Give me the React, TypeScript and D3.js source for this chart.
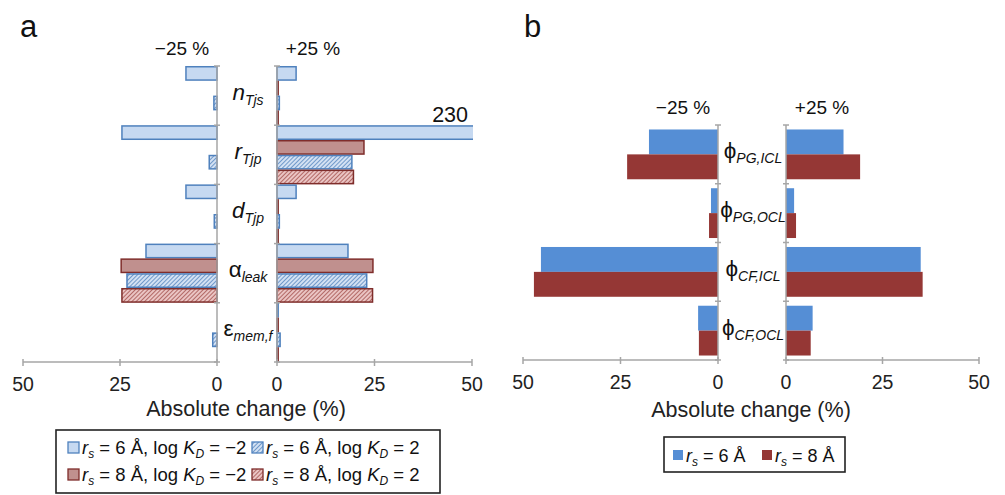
import React from 'react';
import * as d3 from 'd3';

// panel a: sensitivity of parameters, four model variants
const catsA = ['nTjs', 'rTjp', 'dTjp', 'aleak', 'emem'];
const labelsA = [
  { main: 'n', sub: 'Tjs', italic: true },
  { main: 'r', sub: 'Tjp', italic: true },
  { main: 'd', sub: 'Tjp', italic: true },
  { main: 'α', sub: 'leak', italic: false },
  { main: 'ε', sub: 'mem,f', italic: false },
];
const seriesA = ['rs6_m2', 'rs8_m2', 'rs6_p2', 'rs8_p2'];
// −25 % change, per category, per series
const minusA = [
  [8.0, 0, 0.8, 0],
  [24.5, 0, 2.0, 0],
  [8.0, 0, 0.7, 0],
  [18.3, 24.7, 23.2, 24.5],
  [0, 0, 1.1, 0],
];
// +25 % change
const plusA = [
  [4.9, 0.3, 0.6, 0.3],
  [230, 22.3, 19.2, 19.6],
  [4.9, 0.3, 0.6, 0.3],
  [18.2, 24.6, 23.0, 24.5],
  [0.3, 0.3, 0.8, 0.3],
];

// panel b
const catsB = ['PG,ICL', 'PG,OCL', 'CF,ICL', 'CF,OCL'];
const seriesB = ['rs6', 'rs8'];
const minusB = [
  [17.7, 23.3],
  [1.8, 2.3],
  [45.4, 47.2],
  [5.1, 4.9],
];
const plusB = [
  [14.9, 19.2],
  [2.1, 2.6],
  [34.9, 35.4],
  [6.9, 6.4],
];

const xTicks = [0, 25, 50];

const FONT = '"Liberation Sans", Arial, sans-serif';
const AXIS = '#a6a6a6';

const styleA = [
  { fill: '#c6d9f1', stroke: '#4f81bd' },
  { fill: '#c0908e', stroke: '#7f2d2b' },
  { fill: 'url(#hatchBlue)', stroke: '#4f81bd' },
  { fill: 'url(#hatchRed)', stroke: '#7f2d2b' },
];
const colorsB = ['#558ed5', '#953735'];

function VAxis({ x, y }: any) {
  const [y0, y1] = y.range();
  const edges = [...y.domain().map((c: string) => y(c)), y1];
  return (
    <g stroke={AXIS} strokeWidth={1.5}>
      <line x1={x} x2={x} y1={y0} y2={y1} />
      {edges.map((e: number, i: number) => (
        <line key={i} x1={x - 3} x2={x + 3} y1={e} y2={e} />
      ))}
    </g>
  );
}

function HAxis({ x, y }: any) {
  const [r0, r1] = x.range();
  return (
    <g>
      <line x1={r0} x2={r1} y1={y} y2={y} stroke={AXIS} strokeWidth={1.5} />
      {xTicks.map((t) => (
        <g key={t}>
          <line x1={x(t)} x2={x(t)} y1={y - 3} y2={y + 4} stroke={AXIS} strokeWidth={1.5} />
          <text x={x(t)} y={y + 29} textAnchor="middle" fontSize={19.5} fill="#222">
            {t}
          </text>
        </g>
      ))}
    </g>
  );
}

function LegendLabel({ rs, kd }: { rs: string; kd?: string }) {
  return (
    <>
      <tspan fontStyle="italic">r</tspan>
      <tspan fontSize={12} dy={4} fontStyle="italic">s</tspan>
      <tspan dy={-4}>{` = ${rs} Å${kd !== undefined ? ', log ' : ''}`}</tspan>
      {kd !== undefined && (
        <>
          <tspan fontStyle="italic">K</tspan>
          <tspan fontSize={12} dy={4} fontStyle="italic">D</tspan>
          <tspan dy={-4}>{` = ${kd}`}</tspan>
        </>
      )}
    </>
  );
}

function App() {
  // scales, panel a
  const yA = d3.scaleBand<string>().domain(catsA).range([66, 362]);
  const sA = d3.scaleBand<string>().domain(seriesA).range([0, yA.bandwidth()]).paddingInner(0.1).paddingOuter(0.05);
  const xAL = d3.scaleLinear().domain([0, 50]).range([217, 23]);
  const xAR = d3.scaleLinear().domain([0, 50]).range([277, 472]);

  // scales, panel b
  const yB = d3.scaleBand<string>().domain(catsB).range([125, 360]);
  const sB = d3.scaleBand<string>().domain(seriesB).range([0, yB.bandwidth()]).paddingInner(0).paddingOuter(0.18);
  const xBL = d3.scaleLinear().domain([0, 50]).range([718, 523]);
  const xBR = d3.scaleLinear().domain([0, 50]).range([786, 979]);

  // legend a: row 1 = 6 Å, row 2 = 8 Å; col 1 = log KD −2, col 2 = log KD 2
  const legendOrder = [0, 2, 1, 3];

  return (
    <svg
      width={1005}
      height={495}
      style={{ position: 'absolute', left: 0, top: 0, background: '#fff' }}
      fontFamily={FONT}
    >
      <defs>
        <pattern id="hatchBlue" width={3} height={3} patternUnits="userSpaceOnUse" patternTransform="rotate(45)">
          <rect width={3} height={3} fill="#d3e1f3" />
          <line x1={0} y1={0} x2={0} y2={3} stroke="#4f81bd" strokeWidth={1.5} />
        </pattern>
        <pattern id="hatchRed" width={3} height={3} patternUnits="userSpaceOnUse" patternTransform="rotate(45)">
          <rect width={3} height={3} fill="#eac4c3" />
          <line x1={0} y1={0} x2={0} y2={3} stroke="#a04a47" strokeWidth={1.5} />
        </pattern>
        <clipPath id="clipAR">
          <rect x={270} y={60} width={203} height={310} />
        </clipPath>
      </defs>

      {/* ---------- panel a ---------- */}
      <text x={20} y={37} fontSize={31} fill="#111">a</text>
      <text x={182} y={55} textAnchor="middle" fontSize={19} fill="#111">−25 %</text>
      <text x={313} y={55} textAnchor="middle" fontSize={19} fill="#111">+25 %</text>

      {catsA.map((c, ci) =>
        seriesA.map((s, si) => {
          const v = minusA[ci][si];
          if (!v) return null;
          return (
            <rect
              key={c + s + 'm'}
              x={xAL(v)}
              y={yA(c)! + sA(s)!}
              width={xAL(0) - xAL(v)}
              height={sA.bandwidth()}
              fill={styleA[si].fill}
              stroke={styleA[si].stroke}
              strokeWidth={1.5}
            />
          );
        })
      )}
      <g clipPath="url(#clipAR)">
        {catsA.map((c, ci) =>
          seriesA.map((s, si) => {
            const v = plusA[ci][si];
            if (!v) return null;
            return (
              <rect
                key={c + s + 'p'}
                x={xAR(0)}
                y={yA(c)! + sA(s)!}
                width={xAR(v) - xAR(0)}
                height={sA.bandwidth()}
                fill={styleA[si].fill}
                stroke={styleA[si].stroke}
                strokeWidth={1.5}
              />
            );
          })
        )}
      </g>
      <text x={468} y={122} textAnchor="end" fontSize={21.5} fill="#111">230</text>

      <VAxis x={xAL(0)} y={yA} />
      <VAxis x={xAR(0)} y={yA} />
      <HAxis x={xAL} y={362} />
      <HAxis x={xAR} y={362} />

      {labelsA.map((l, i) => (
        <text
          key={l.main}
          x={(xAL(0) + xAR(0)) / 2 + 1}
          y={yA(catsA[i])! + yA.bandwidth() / 2 + 4}
          textAnchor="middle"
          fontSize={22.5}
          fill="#111"
        >
          <tspan fontStyle={l.italic ? 'italic' : 'normal'}>{l.main}</tspan>
          <tspan fontSize={14} dy={5} fontStyle="italic">{l.sub}</tspan>
        </text>
      ))}

      <text x={246} y={416} textAnchor="middle" fontSize={21.5} fill="#222">Absolute change (%)</text>

      <rect x={56} y={430} width={384} height={63} fill="none" stroke="#222" strokeWidth={1.6} />
      {seriesA.map((s, si) => {
        const k = legendOrder.indexOf(si);
        const cx = [68, 252][k % 2];
        const cy = [448, 475][Math.floor(k / 2)];
        const rs = si === 0 || si === 2 ? '6' : '8';
        const kd = si < 2 ? '−2' : '2';
        return (
          <g key={s}>
            <rect x={cx} y={cy - 6} width={11} height={11} fill={styleA[si].fill} stroke={styleA[si].stroke} strokeWidth={1.3} />
            <text x={cx + 14} y={cy + 6} fontSize={18.5} fill="#111">
              <LegendLabel rs={rs} kd={kd} />
            </text>
          </g>
        );
      })}

      {/* ---------- panel b ---------- */}
      <text x={524} y={37} fontSize={31} fill="#111">b</text>
      <text x={683} y={114} textAnchor="middle" fontSize={19} fill="#111">−25 %</text>
      <text x={822} y={114} textAnchor="middle" fontSize={19} fill="#111">+25 %</text>

      {catsB.map((c, ci) =>
        seriesB.map((s, si) => (
          <g key={c + s}>
            <rect
              x={xBL(minusB[ci][si])}
              y={yB(c)! + sB(s)!}
              width={xBL(0) - xBL(minusB[ci][si])}
              height={sB.bandwidth()}
              fill={colorsB[si]}
            />
            <rect
              x={xBR(0)}
              y={yB(c)! + sB(s)!}
              width={xBR(plusB[ci][si]) - xBR(0)}
              height={sB.bandwidth()}
              fill={colorsB[si]}
            />
          </g>
        ))
      )}

      <VAxis x={xBL(0)} y={yB} />
      <VAxis x={xBR(0)} y={yB} />
      <HAxis x={xBL} y={360} />
      <HAxis x={xBR} y={360} />

      {catsB.map((c) => (
        <text
          key={c}
          x={(xBL(0) + xBR(0)) / 2 + 1}
          y={yB(c)! + yB.bandwidth() / 2 + 4}
          textAnchor="middle"
          fontSize={22.5}
          fill="#111"
        >
          <tspan>ϕ</tspan>
          <tspan fontSize={14} dy={5} fontStyle="italic">{c}</tspan>
        </text>
      ))}

      <text x={751} y={417} textAnchor="middle" fontSize={21.5} fill="#222">Absolute change (%)</text>

      <rect x={664} y={437} width={181} height={35} fill="none" stroke="#222" strokeWidth={1.6} />
      {seriesB.map((s, si) => {
        const cx = [673, 762][si];
        return (
          <g key={s}>
            <rect x={cx} y={450} width={10} height={10} fill={colorsB[si]} />
            <text x={cx + 13} y={462} fontSize={18} fill="#111">
              <LegendLabel rs={si === 0 ? '6' : '8'} />
            </text>
          </g>
        );
      })}
    </svg>
  );
}

export default App;
